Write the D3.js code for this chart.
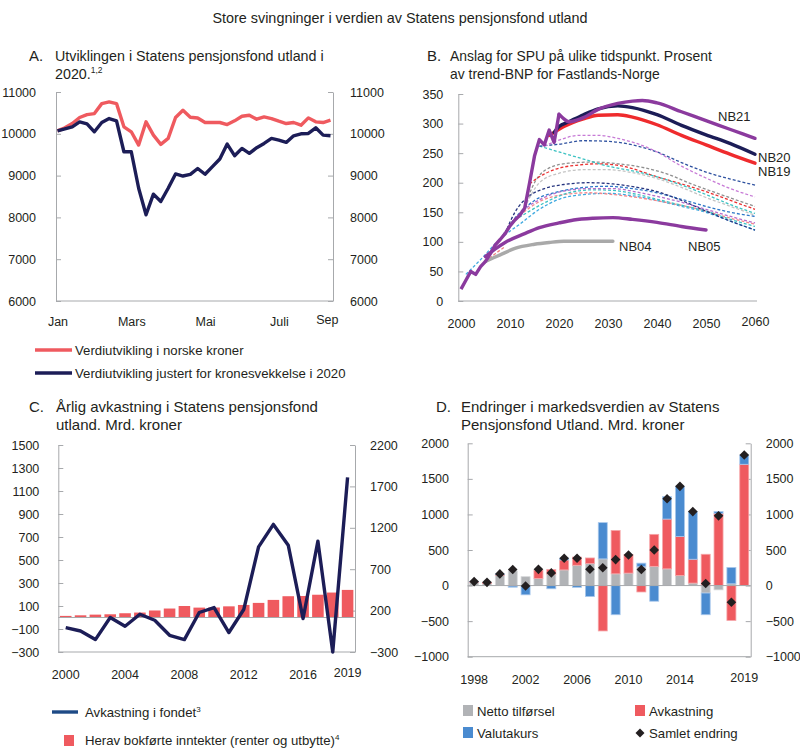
<!DOCTYPE html>
<html>
<head>
<meta charset="utf-8">
<script src="https://cdn.jsdelivr.net/npm/d3@7"></script>
<style>
body { margin: 0; background: #fff; }
svg text { font-family: "Liberation Sans", Arial, sans-serif; fill: #231f20; }
</style>
</head>
<body>
<div id="chart"></div>
<script>
// ---- Panel A: weekly values 2020 ----
const monthsA = ["Jan", "Mars", "Mai", "Juli", "Sep"];
const monthPosA = [0, 10, 20, 30, 36.5];
const ticksA = [6000, 7000, 8000, 9000, 10000, 11000];
const kronerA = [10071, 10143, 10246, 10389, 10460, 10484, 10722, 10762, 10722, 10167, 10048, 9730, 10286, 9968, 9746, 9889, 10389, 10563, 10397, 10377, 10270, 10270, 10270, 10222, 10310, 10421, 10444, 10349, 10405, 10365, 10302, 10246, 10270, 10206, 10381, 10286, 10270, 10325];
const justertA = [10071, 10119, 10167, 10286, 10238, 10048, 10270, 10365, 10310, 9571, 9571, 8698, 8063, 8556, 8381, 8698, 9040, 8990, 9030, 9170, 9032, 9214, 9397, 9754, 9476, 9651, 9532, 9667, 9770, 9889, 9849, 9794, 9952, 10000, 10008, 10143, 9968, 9952];

// ---- Panel B: percent of mainland trend GDP ----
const ticksB = [0, 50, 100, 150, 200, 250, 300, 350];
const yearTicksB = [2000, 2010, 2020, 2030, 2040, 2050, 2060];
const historyB = [[2000, 20], [2001, 35], [2002, 50], [2003, 45], [2004, 58], [2005, 67], [2006, 80], [2007, 95], [2008, 104], [2009, 114], [2010, 127], [2011, 137], [2012, 145], [2013, 157], [2014, 200], [2015, 245], [2016, 273], [2017, 264], [2018, 289], [2019, 268], [2020, 316]];
const nb21 = [[2020, 316], [2021, 308], [2022, 303], [2025, 310], [2028, 324], [2032, 334], [2035, 338], [2037, 339], [2040, 335], [2045, 320], [2050, 305], [2055, 290], [2060, 275]];
const nb20 = [[2019, 285], [2020, 295], [2022, 303], [2025, 315], [2028, 325], [2032, 330], [2035, 327], [2040, 315], [2045, 297], [2050, 281], [2055, 266], [2060, 248]];
const nb19 = [[2018, 280], [2019, 285], [2021, 295], [2025, 308], [2028, 314], [2032, 315], [2035, 311], [2040, 298], [2045, 280], [2050, 264], [2055, 248], [2060, 233]];
const nb05 = [[2005, 75], [2007, 88], [2009, 99], [2013, 114], [2016, 124], [2020, 132], [2023, 137], [2027, 140], [2031, 141], [2035, 138], [2040, 133], [2045, 126], [2050, 120]];
const nb04 = [[2005, 67], [2008, 78], [2011, 89], [2015, 96], [2018, 99], [2021, 101], [2025, 101], [2031, 101]];
const nb18 = [[2017, 262], [2020, 272], [2024, 280], [2028, 280], [2032, 275], [2036, 266], [2040, 252], [2045, 228], [2050, 208], [2055, 190], [2060, 176]];
const nb17 = [[2016, 262], [2020, 265], [2025, 271], [2030, 270], [2035, 264], [2040, 252], [2045, 234], [2050, 218], [2055, 206], [2060, 196]];
const nb16 = [[2016, 262], [2020, 252], [2025, 240], [2030, 228], [2035, 220], [2040, 210], [2045, 196], [2050, 180], [2055, 163], [2060, 148]];
const nb15 = [[2014, 198], [2016, 210], [2019, 222], [2024, 230], [2028, 232], [2033, 228], [2040, 210], [2045, 198], [2050, 185], [2055, 170], [2060, 155]];
const nb14 = [[2013, 160], [2015, 200], [2018, 225], [2022, 233], [2027, 235], [2032, 232], [2037, 226], [2042, 215], [2047, 198], [2052, 183], [2060, 160]];
const nb13 = [[2013, 158], [2016, 200], [2020, 216], [2025, 222], [2030, 222], [2035, 217], [2040, 207], [2045, 192], [2050, 175], [2055, 160], [2060, 145]];
const nb12 = [[2009, 114], [2011, 150], [2014, 178], [2017, 190], [2021, 197], [2026, 200], [2031, 198], [2036, 192], [2040, 185], [2045, 170], [2050, 152], [2055, 135], [2060, 120]];
const nb11 = [[2008, 104], [2011, 140], [2015, 170], [2020, 185], [2025, 192], [2030, 194], [2035, 190], [2040, 183], [2045, 172], [2050, 160], [2055, 150], [2060, 143]];
const nb10 = [[2010, 127], [2013, 155], [2017, 175], [2021, 186], [2026, 190], [2031, 190], [2036, 184], [2040, 177], [2045, 167], [2050, 155], [2055, 143], [2060, 132]];
const nb09 = [[2011, 137], [2014, 152], [2018, 170], [2022, 183], [2027, 188], [2031, 187], [2036, 180], [2041, 170], [2046, 160], [2050, 152], [2055, 138], [2060, 126]];
const nb08 = [[2012, 145], [2016, 168], [2021, 180], [2026, 183], [2031, 180], [2036, 175], [2041, 168], [2046, 160], [2050, 152], [2055, 140], [2060, 130]];
const nb07 = [[2001, 45], [2004, 70], [2008, 105], [2012, 130], [2016, 155], [2020, 172], [2025, 180], [2030, 182], [2035, 178], [2040, 170], [2045, 160], [2050, 150], [2055, 135], [2060, 120]];
const nb06 = [[2005, 67], [2007, 80], [2009, 92]];
const dashedB = [nb07, nb06, nb08, nb09, nb10, nb11, nb12, nb13, nb14, nb15, nb16, nb17, nb18];
const dashedColors = ["#3fa9e0", "#f08080", "#f4868b", "#3cc2c2", "#b56ccc", "#2f78c8", "#27357f", "#c4c4c4", "#8f8f8f", "#ea3030", "#3cc2c2", "#2f52a0", "#c77ad6"];

// ---- Panel C: annual return, bn NOK ----
const yearsC = [2000, 2001, 2002, 2003, 2004, 2005, 2006, 2007, 2008, 2009, 2010, 2011, 2012, 2013, 2014, 2015, 2016, 2017, 2018, 2019];
const labelsC = [2000, 2004, 2008, 2012, 2016, 2019];
const ticksCL = [-300, -100, 100, 300, 500, 700, 900, 1100, 1300, 1500];
const ticksCR = [-300, 200, 700, 1200, 1700, 2200];
const avkastningC = [-5, -46, -150, 116, 11, 156, 83, -98, -150, 177, 237, -65, 213, 970, 1241, 990, 104, 1039, -300, 1809];
const bokforteC = [14, 19, 25, 28, 37, 43, 61, 78, 100, 86, 87, 97, 109, 127, 153, 185, 187, 198, 217, 240];

// ---- Panel D: change in market value, bn NOK ----
const yearsD = [1998, 1999, 2000, 2001, 2002, 2003, 2004, 2005, 2006, 2007, 2008, 2009, 2010, 2011, 2012, 2013, 2014, 2015, 2016, 2017, 2018, 2019];
const labelsD = [1998, 2002, 2006, 2010, 2014, 2019];
const ticksD = [-1000, -500, 0, 500, 1000, 1500, 2000];
const nettoD = [45, 30, 145, 205, 125, 100, 160, 220, 285, 310, 375, 165, 175, 265, 270, 235, 141, 35, -105, -60, 25, 0];
const avkD = [8, 15, 10, -5, 0, 115, 65, 140, 115, 78, -638, 610, 260, -90, 450, 700, 548, 335, 440, 1015, -490, 1705];
const valutaD = [3, 0, 10, -18, -130, 0, -45, 25, -25, -155, 510, -410, 0, 50, -220, 315, 703, 670, -305, 25, 230, 130];
const totalD = [56, 45, 164, 225, -5, 228, 178, 385, 385, 230, 250, 365, 430, 225, 500, 1220, 1395, 1040, 28, 980, -235, 1835];

// ---- common ----
const axisGray = "#a7a9ac";
const navy = "#1c1d57";
const redLine = "#ef5a5f";
const purple = "#8b3a9e";
const legendSize = "13.2px";

const svg = d3.select("#chart").append("svg")
    .attr("width", 800)
    .attr("height", 756);

function styleAxis(g) {
    g.attr("font-family", null).attr("font-size", null);
    g.selectAll("text").style("font-size", "12.5px").attr("fill", "#231f20");
    g.select(".domain").attr("stroke", axisGray);
    g.selectAll(".tick line").attr("stroke", axisGray);
}

function yAxis(g, scale, side, x, ticks, pad) {
    const ax = (side === "left" ? d3.axisLeft(scale) : d3.axisRight(scale))
        .tickValues(ticks).tickFormat(d3.format("d"))
        .tickSizeInner(-5).tickSizeOuter(0).tickPadding(pad);
    g.append("g").attr("transform", `translate(${x},0)`).call(ax).call(styleAxis);
}

function xLabels(g, scale, ticks, y, pad, fmt) {
    const ax = d3.axisBottom(scale).tickValues(ticks).tickSize(0).tickPadding(pad).tickFormat(fmt);
    const a = g.append("g").attr("transform", `translate(0,${y})`).call(ax).call(styleAxis);
    a.select(".domain").remove();
    // last label sits a little higher in the original
    a.selectAll(".tick text").filter((d, i, n) => i === n.length - 1).attr("y", pad - 2);
}

function hLine(g, x1, x2, y) {
    g.append("line").attr("x1", x1).attr("x2", x2).attr("y1", y).attr("y2", y)
        .attr("stroke", axisGray).attr("stroke-width", 1);
}

function panelTitle(letter, xl, xt, y, size, lines, sup) {
    svg.append("text").attr("x", xl).attr("y", y).style("font-size", "15px").text(letter);
    lines.forEach((l, i) => {
        const t = svg.append("text").attr("x", xt).attr("y", y + i * 18).style("font-size", size).text(l);
        if (sup && i === lines.length - 1) {
            t.append("tspan").attr("dy", -6).style("font-size", "8.5px").text(sup);
        }
    });
}

// main title
svg.append("text").attr("x", 400).attr("y", 23).attr("text-anchor", "middle")
    .style("font-size", "14.4px")
    .text("Store svingninger i verdien av Statens pensjonsfond utland");

// ================= Panel A =================
panelTitle("A.", 29, 55, 60.5, "14.3px", ["Utviklingen i Statens pensjonsfond utland i", "2020."], "1,2");

const gA = svg.append("g");
const xA = d3.scaleLinear().domain([0, kronerA.length - 1]).range([57.5, 330.5]);
const yA = d3.scaleLinear().domain([6000, 11000]).range([301, 92]);

yAxis(gA, yA, "left", 56, ticksA, 20);
yAxis(gA, yA, "right", 333, ticksA, 17);
hLine(gA, 56, 333, 301);
xLabels(gA, xA, monthPosA, 301, 16.5, (d, i) => monthsA[i]);

const lineA = d3.line().x((d, i) => xA(i)).y(d => yA(d));
gA.append("path").datum(kronerA).attr("d", lineA)
    .attr("fill", "none").attr("stroke", redLine).attr("stroke-width", 3.4).attr("stroke-linejoin", "round");
gA.append("path").datum(justertA).attr("d", lineA)
    .attr("fill", "none").attr("stroke", navy).attr("stroke-width", 3.4).attr("stroke-linejoin", "round");

// legend A
[["Verdiutvikling i norske kroner", redLine, 350], ["Verdiutvikling justert for kronesvekkelse i 2020", navy, 373]].forEach(([t, c, y]) => {
    svg.append("line").attr("x1", 35).attr("x2", 72).attr("y1", y).attr("y2", y)
        .attr("stroke", c).attr("stroke-width", 3.4);
    svg.append("text").attr("x", 75).attr("y", y + 4.5).style("font-size", legendSize).text(t);
});

// ================= Panel B =================
panelTitle("B.", 427, 450, 61, "13.9px", ["Anslag for SPU på ulike tidspunkt. Prosent", "av trend-BNP for Fastlands-Norge"]);

const gB = svg.append("g");
const xB = d3.scaleLinear().domain([2000, 2060]).range([461, 755]);
const yB = d3.scaleLinear().domain([0, 350]).range([301, 94]);

yAxis(gB, yB, "left", 458.3, ticksB, 15);
hLine(gB, 458.3, 757, 301);
xLabels(gB, xB, yearTicksB, 301, 18, d3.format("d"));

const lineB = d3.line().x(d => xB(d[0])).y(d => yB(d[1])).curve(d3.curveMonotoneX);
dashedB.forEach((s, i) => {
    gB.append("path").datum(s).attr("d", lineB)
        .attr("fill", "none").attr("stroke", dashedColors[i])
        .attr("stroke-width", 1.3).attr("stroke-dasharray", "3,2");
});
[[nb04, "#a9a9a9"], [nb05, purple], [nb19, "#ef2b2d"], [nb20, navy], [nb21, purple]].forEach(([s, c]) => {
    gB.append("path").datum(s).attr("d", lineB)
        .attr("fill", "none").attr("stroke", c).attr("stroke-width", 3.4).attr("stroke-linecap", "round");
});
gB.append("path").datum(historyB).attr("d", lineB.curve(d3.curveLinear))
    .attr("fill", "none").attr("stroke", purple).attr("stroke-width", 3.4).attr("stroke-linejoin", "round");

[["NB21", 718, 120.5], ["NB20", 758, 161.5], ["NB19", 758, 176], ["NB04", 619, 250.5], ["NB05", 688, 250.5]].forEach(([t, x, y]) => {
    gB.append("text").attr("x", x).attr("y", y).style("font-size", "13px").text(t);
});

// ================= Panel C =================
panelTitle("C.", 29, 56, 411.5, "15px", ["Årlig avkastning i Statens pensjonsfond", "utland. Mrd. kroner"]);

const gC = svg.append("g");
const xC = d3.scaleBand().domain(yearsC).range([58.3, 355]).paddingInner(0.22).paddingOuter(0.11);
const yCL = d3.scaleLinear().domain([-300, 1500]).range([652, 445]);
const yCR = d3.scaleLinear().domain([-300, 2200]).range([652, 445]);

yAxis(gC, yCL, "left", 58.3, ticksCL, 19);
yAxis(gC, yCR, "right", 355, ticksCR, 15);
hLine(gC, 58.3, 355, 652);
xLabels(gC, xC, labelsC, 652, 18, d3.format("d"));

gC.selectAll(".barC").data(yearsC).enter().append("rect")
    .attr("class", "barC")
    .attr("x", d => xC(d))
    .attr("width", xC.bandwidth())
    .attr("y", (d, i) => yCL(bokforteC[i]))
    .attr("height", (d, i) => yCL(0) - yCL(bokforteC[i]))
    .attr("fill", "#ef5a5f");
hLine(gC, 58.3, 355, yCL(0));

const lineC = d3.line().x((d, i) => xC(yearsC[i]) + xC.bandwidth() / 2).y(d => yCR(d));
gC.append("path").datum(avkastningC).attr("d", lineC)
    .attr("fill", "none").attr("stroke", navy).attr("stroke-width", 3.4).attr("stroke-linejoin", "round");

// legend C
svg.append("line").attr("x1", 52).attr("x2", 78).attr("y1", 712).attr("y2", 712)
    .attr("stroke", "#1e4a86").attr("stroke-width", 3.4);
svg.append("text").attr("x", 85).attr("y", 716.5).style("font-size", legendSize)
    .text("Avkastning i fondet").append("tspan").attr("dy", -5).style("font-size", "8px").text("3");
svg.append("rect").attr("x", 64).attr("y", 735).attr("width", 10).attr("height", 11).attr("fill", "#ef5a5f");
svg.append("text").attr("x", 85).attr("y", 745).style("font-size", legendSize)
    .text("Herav bokførte inntekter (renter og utbytte)").append("tspan").attr("dy", -5).style("font-size", "8px").text("4");

// ================= Panel D =================
panelTitle("D.", 436, 461, 412, "15px", ["Endringer i markedsverdien av Statens", "Pensjonsfond Utland. Mrd. kroner"]);

const gD = svg.append("g");
const xD = d3.scaleBand().domain(yearsD).range([467.7, 750.7]).paddingInner(0.3).paddingOuter(0.15);
const yD = d3.scaleLinear().domain([-1000, 2000]).range([656.7, 443.3]);

yAxis(gD, yD, "left", 467.7, ticksD, 18.7);
yAxis(gD, yD, "right", 750.7, ticksD, 15);
hLine(gD, 467.7, 750.7, 656.7);
xLabels(gD, xD, labelsD, 656.7, 18, d3.format("d"));

const rowsD = yearsD.map((y, i) => ({ year: y, netto: nettoD[i], avk: avkD[i], valuta: valutaD[i] }));
const keysD = ["netto", "avk", "valuta"];
const fillD = { netto: "#b1b3b6", avk: "#ef5a5f", valuta: "#4a8bd0" };
const edgeD = { netto: "#d6d7d9", avk: "#f6a5a8", valuta: "#a9c8ec" };
const stackD = d3.stack().keys(keysD).offset(d3.stackOffsetDiverging)(rowsD);

stackD.forEach(layer => {
    gD.selectAll(".bar-" + layer.key).data(layer).enter().append("rect")
        .attr("class", "bar-" + layer.key)
        .attr("x", d => xD(d.data.year))
        .attr("width", xD.bandwidth())
        .attr("y", d => yD(Math.max(d[0], d[1])))
        .attr("height", d => Math.abs(yD(d[0]) - yD(d[1])))
        .attr("fill", fillD[layer.key])
        .attr("stroke", edgeD[layer.key])
        .attr("stroke-width", 0.8);
});
hLine(gD, 467.7, 750.7, yD(0));

const diamond = d3.symbol().type(d3.symbolSquare).size(46);
gD.selectAll(".dia").data(totalD).enter().append("path")
    .attr("class", "dia")
    .attr("d", diamond)
    .attr("transform", (d, i) => `translate(${xD(yearsD[i]) + xD.bandwidth() / 2},${yD(d)}) rotate(45)`)
    .attr("fill", "#231f20");

// legend D
svg.append("rect").attr("x", 463).attr("y", 705).attr("width", 10).attr("height", 11).attr("fill", "#b1b3b6");
svg.append("text").attr("x", 477).attr("y", 715.5).style("font-size", legendSize).text("Netto tilførsel");
svg.append("rect").attr("x", 463).attr("y", 727).attr("width", 10).attr("height", 11).attr("fill", "#4a8bd0");
svg.append("text").attr("x", 477).attr("y", 737.5).style("font-size", legendSize).text("Valutakurs");
svg.append("rect").attr("x", 635).attr("y", 705).attr("width", 10).attr("height", 11).attr("fill", "#ef5a5f");
svg.append("text").attr("x", 649).attr("y", 715.5).style("font-size", legendSize).text("Avkastning");
svg.append("path").attr("d", d3.symbol().type(d3.symbolSquare).size(40))
    .attr("transform", "translate(640,733) rotate(45)").attr("fill", "#231f20");
svg.append("text").attr("x", 649).attr("y", 737.5).style("font-size", legendSize).text("Samlet endring");
</script>
</body>
</html>
